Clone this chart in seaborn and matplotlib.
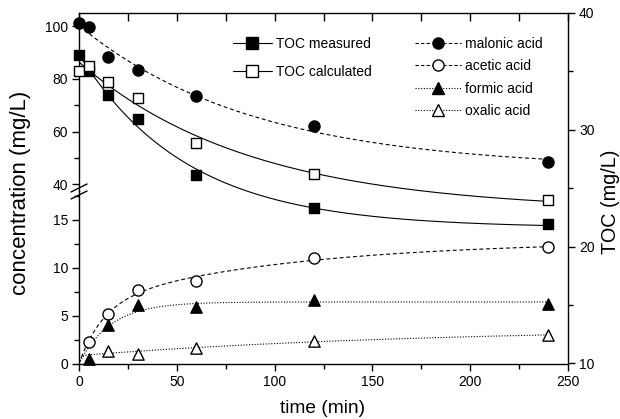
import numpy as np
import matplotlib
matplotlib.use("Agg")
import matplotlib.pyplot as plt
from matplotlib.lines import Line2D
from matplotlib.ticker import MultipleLocator
import seaborn as sns

# ---- data ----
time = [0, 5, 15, 30, 60, 120, 240]
malonic = [101.2, 99.7, 88.2, 83.4, 73.7, 62.3, 48.4]
toc_measured = [36.4, 35.0, 33.0, 30.9, 26.1, 23.3, 21.9]
toc_calculated = [35.05, 35.5, 34.1, 32.7, 28.9, 26.2, 24.0]

time_acid = [5, 15, 30, 60, 120, 240]
acetic = [2.2, 5.2, 7.7, 8.6, 11.0, 12.15]
formic = [0.5, 4.05, 6.15, 5.9, 6.6, 6.2]
time_oxalic = [15, 30, 60, 120, 240]
oxalic = [1.3, 1.0, 1.6, 2.4, 2.95]

x_ticks = [0, 50, 100, 150, 200, 250]
lo_ticks = [0, 5, 10, 15]
hi_ticks = [40, 60, 80, 100]
toc_ticks = [10, 20, 30, 40]


# ---- smooth trend curves (least-squares exponential models) ----
def fit_decay(t, y, tt):
    t = np.asarray(t, float); y = np.asarray(y, float)
    best = None
    for k in np.logspace(-4, 0, 600):
        X = np.column_stack([np.ones_like(t), np.exp(-k * t)])
        c, *_ = np.linalg.lstsq(X, y, rcond=None)
        r = np.sum((X @ c - y) ** 2)
        if best is None or r < best[0]:
            best = (r, k, c)
    _, k, c = best
    return c[0] + c[1] * np.exp(-k * tt)


def fit_rise(t, y, tt):
    # monotone rise from the origin: y = a(1-exp(-k1 t)) + b(1-exp(-k2 t)), a, b >= 0
    t = np.asarray(t, float); y = np.asarray(y, float)
    best = None
    for k1 in np.logspace(-2.3, 0, 60):
        for k2 in np.logspace(-4, -1.6, 60):
            X = np.column_stack([1 - np.exp(-k1 * t), 1 - np.exp(-k2 * t)])
            c, *_ = np.linalg.lstsq(X, y, rcond=None)
            if np.any(c < 0):
                c1 = max(np.dot(X[:, 0], y) / np.dot(X[:, 0], X[:, 0]), 0.0)
                c = np.array([c1, 0.0])
            r = np.sum((X @ c - y) ** 2)
            if best is None or r < best[0]:
                best = (r, k1, k2, c)
    _, k1, k2, c = best
    return c[0] * (1 - np.exp(-k1 * tt)) + c[1] * (1 - np.exp(-k2 * tt))


tt = np.linspace(0, 240, 400)

sns.set_theme(style="ticks")
plt.rcParams["font.family"] = ["Liberation Sans", "DejaVu Sans"]
plt.rcParams.update({
    "axes.linewidth": 1.0, "axes.edgecolor": "black", "axes.labelcolor": "black",
    "xtick.color": "black", "ytick.color": "black", "text.color": "black",
})

W, H = 620, 419
fig = plt.figure(figsize=(W / 100, H / 100), dpi=100)


def fy(p):
    return 1 - p / H


x0, x1 = 79, 568
y_top, y_brk, y_bot = 13, 191, 363.5
L, Wd = x0 / W, (x1 - x0) / W

ax_lo = fig.add_axes([L, fy(y_bot), Wd, fy(y_brk) - fy(y_bot)])
ax_hi = fig.add_axes([L, fy(y_brk), Wd, fy(y_top) - fy(y_brk)])
ax_r = fig.add_axes([L, fy(y_bot), Wd, fy(y_top) - fy(y_bot)])
for a in (ax_lo, ax_hi, ax_r):
    a.set_facecolor("none")
    a.set_xlim(0, 250)

ax_lo.set_ylim(0, 18)
ax_hi.set_ylim(37.5, 105)
ax_r.set_ylim(10, 40)

lw_fit = 0.8
mk_kw = dict(edgecolor="black", linewidth=1.0, clip_on=False, zorder=5, legend=False)
s_circ, s_sq, s_tri = 64, 58, 66

# malonic acid (upper panel)
sns.lineplot(x=tt, y=fit_decay(time, malonic, tt), ax=ax_hi, color="black",
             lw=lw_fit, linestyle=(0, (3.5, 2.5)), legend=False)
sns.scatterplot(x=time, y=malonic, ax=ax_hi, marker="o", s=s_circ, color="black", **mk_kw)

# intermediates (lower panel)
sns.lineplot(x=tt, y=fit_rise(time_acid, acetic, tt), ax=ax_lo, color="black",
             lw=lw_fit, linestyle=(0, (3.5, 2.5)), legend=False)
sns.lineplot(x=tt, y=fit_rise(time_acid, formic, tt), ax=ax_lo, color="black",
             lw=lw_fit, linestyle=(0, (1, 1.5)), legend=False)
sns.lineplot(x=tt, y=fit_rise(time_oxalic, oxalic, tt), ax=ax_lo, color="black",
             lw=lw_fit, linestyle=(0, (1, 1.5)), legend=False)
sns.scatterplot(x=time_acid, y=acetic, ax=ax_lo, marker="o", s=s_circ, color="white", **mk_kw)
sns.scatterplot(x=time_acid, y=formic, ax=ax_lo, marker="^", s=s_tri, color="black", **mk_kw)
sns.scatterplot(x=time_oxalic, y=oxalic, ax=ax_lo, marker="^", s=s_tri, color="white", **mk_kw)

# TOC (right axis)
sns.lineplot(x=tt, y=fit_decay(time, toc_measured, tt), ax=ax_r, color="black",
             lw=lw_fit, legend=False)
sns.lineplot(x=tt, y=fit_decay(time, toc_calculated, tt), ax=ax_r, color="black",
             lw=lw_fit, legend=False)
sns.scatterplot(x=time, y=toc_measured, ax=ax_r, marker="s", s=s_sq, color="black", **mk_kw)
sns.scatterplot(x=time, y=toc_calculated, ax=ax_r, marker="s", s=s_sq, color="white", **mk_kw)

# ---- axes styling ----
tick_font = 10
for a in (ax_lo, ax_hi, ax_r):
    a.set_xlabel("")
    a.set_ylabel("")

# lower panel: bottom + left spines
ax_lo.spines["top"].set_visible(False)
ax_lo.spines["right"].set_visible(False)
ax_lo.set_xticks(x_ticks)
ax_lo.xaxis.set_minor_locator(MultipleLocator(25))
ax_lo.set_yticks(lo_ticks)
ax_lo.yaxis.set_minor_locator(MultipleLocator(2.5))
ax_lo.tick_params(which="both", direction="out", labelsize=tick_font, width=1.0, pad=3,
                  top=False, right=False)
ax_lo.tick_params(which="major", length=5)
ax_lo.tick_params(which="minor", length=3.5)

# upper panel: top + left spines
ax_hi.spines["bottom"].set_visible(False)
ax_hi.spines["right"].set_visible(False)
ax_hi.xaxis.set_ticks_position("top")
ax_hi.set_xticks(x_ticks)
ax_hi.xaxis.set_minor_locator(MultipleLocator(25))
ax_hi.tick_params(axis="x", which="both", direction="in", length=5.5, width=1.0,
                  labeltop=False, labelbottom=False, bottom=False)
ax_hi.set_yticks(hi_ticks)
ax_hi.yaxis.set_minor_locator(MultipleLocator(10))
ax_hi.tick_params(axis="y", which="both", direction="out", labelsize=tick_font, width=1.0, pad=3)
ax_hi.tick_params(axis="y", which="major", length=5)
ax_hi.tick_params(axis="y", which="minor", length=3.5)

# right axis: TOC
for s in ("left", "top", "bottom"):
    ax_r.spines[s].set_visible(False)
ax_r.xaxis.set_visible(False)
ax_r.yaxis.tick_right()
ax_r.set_yticks(toc_ticks)
ax_r.yaxis.set_minor_locator(MultipleLocator(5))
ax_r.tick_params(axis="y", which="both", direction="out", labelsize=tick_font, width=1.0, pad=3)
ax_r.tick_params(axis="y", which="major", length=5)
ax_r.tick_params(axis="y", which="minor", length=3.5)

# axis-break marks on the left spine
for dy in (-3, 4):
    xs = np.array([x0 - 8, x0 + 8]) / W
    ys = fy(np.array([y_brk + dy + 4, y_brk + dy - 4]))
    fig.add_artist(Line2D(xs, ys, color="black", lw=1.0))

# axis titles
fig.text(21 / W, fy(193), "concentration (mg/L)", rotation=90, ha="center", va="center",
         fontsize=16)
fig.text(610 / W, fy(202), "TOC (mg/L)", rotation=90, ha="center", va="center",
         fontsize=14.3)
fig.text(323 / W, fy(408), "time (min)", ha="center", va="center", fontsize=13.8)

# legends
def handle(ls, marker, fc):
    return Line2D([], [], color="black", lw=lw_fit, linestyle=ls, marker=marker,
                  markerfacecolor=fc, markeredgecolor="black", markersize=8,
                  markeredgewidth=1.0)


leg1 = ax_r.legend(
    [handle("-", "s", "black"), handle("-", "s", "white")],
    ["TOC measured", "TOC calculated"],
    loc="upper left", bbox_to_anchor=((233 - x0) / (x1 - x0), (y_bot - 37) / (y_bot - y_top)),
    frameon=False, fontsize=10, handlelength=2.8, handletextpad=0.3,
    labelspacing=1.0, borderpad=0, borderaxespad=0)
ax_r.add_artist(leg1)
ax_r.legend(
    [handle((0, (3, 2)), "o", "black"), handle((0, (3, 2)), "o", "white"),
     handle((0, (1, 1.5)), "^", "black"), handle((0, (1, 1.5)), "^", "white")],
    ["malonic acid", "acetic acid", "formic acid", "oxalic acid"],
    loc="upper left", bbox_to_anchor=((415 - x0) / (x1 - x0), (y_bot - 37) / (y_bot - y_top)),
    frameon=False, fontsize=10, handlelength=3.3, handletextpad=0.3,
    labelspacing=0.6, borderpad=0, borderaxespad=0)

fig.savefig("out.png", dpi=100)
